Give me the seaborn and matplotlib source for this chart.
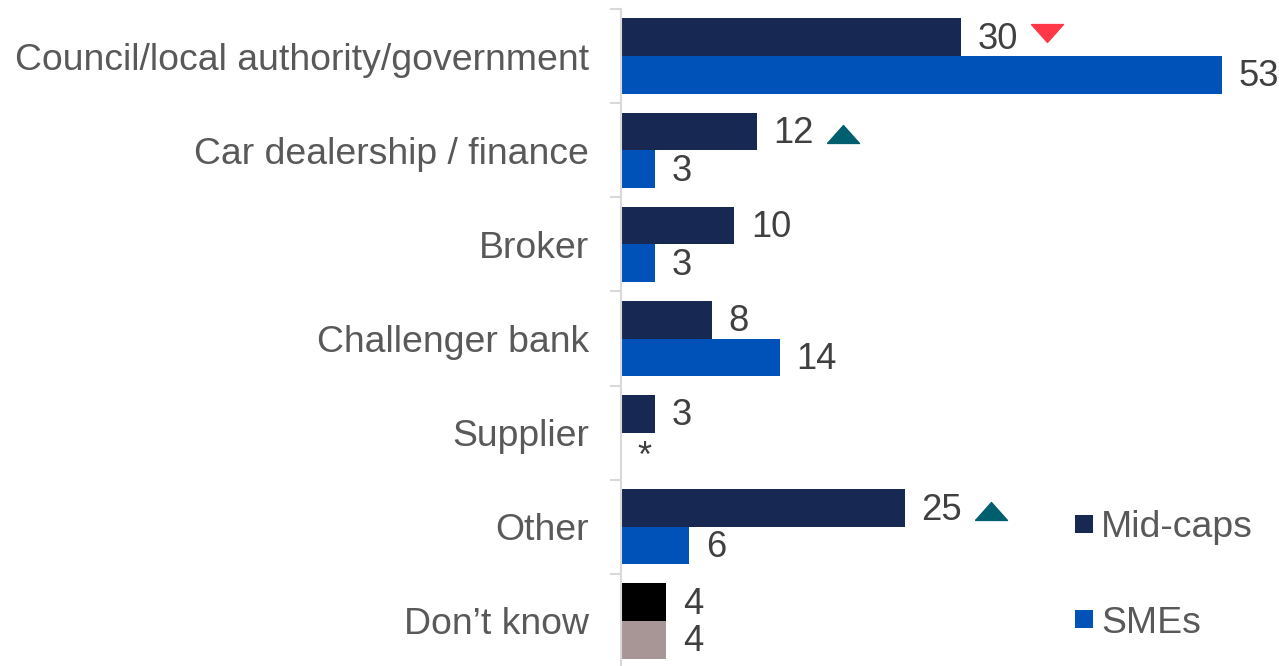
import numpy as np
import pandas as pd
import matplotlib
matplotlib.use("Agg")
import matplotlib.pyplot as plt
import matplotlib.transforms as mtransforms
from matplotlib.lines import Line2D
import seaborn as sns

# Sources of finance (%)
categories = [
    "Council/local authority/government",
    "Car dealership / finance",
    "Broker",
    "Challenger bank",
    "Supplier",
    "Other",
    "Don\u2019t know",
]
midcaps = [30, 12, 10, 8, 3, 25, 4]
smes = [53, 3, 3, 14, None, 6, 4]          # None = below 0.5%, shown as "*"
# significance markers on the Mid-caps bars: "up" / "down" / None
midcap_sig = ["down", "up", None, None, None, "up", None]

groups = ["Mid-caps", "SMEs"]
colors = {"Mid-caps": "#172852", "SMEs": "#0052B8"}
dk_colors = {"Mid-caps": "#000000", "SMEs": "#A89595"}
sig_colors = {"up": "#005F6E", "down": "#FF3747"}

sme_plot = [0 if v is None else v for v in smes]
sme_labels = ["*" if v is None else str(v) for v in smes]
mid_labels = [str(v) for v in midcaps]

df = pd.DataFrame({
    "Source": categories * 2,
    "Group": ["Mid-caps"] * len(categories) + ["SMEs"] * len(categories),
    "Value": midcaps + sme_plot,
})

sns.set_theme(style="white")
plt.rcParams["font.family"] = ["Liberation Sans", "DejaVu Sans"]

FS = 26.9
FS_VAL = 26.2
fig = plt.figure(figsize=(12.79, 6.66), dpi=100)
px_per_unit = 11.34
ax = fig.add_axes([621 / 1279, -2 / 666, 60 * px_per_unit / 1279, 659 / 666])

sns.barplot(data=df, y="Source", x="Value", hue="Group", order=categories,
            hue_order=groups, palette=colors, orient="h", width=0.8,
            linewidth=0, saturation=1, legend=False, ax=ax)

ax.set_xlim(0, 60)
ax.set_ylim(len(categories) - 0.5, -0.5)

# recolour the "Don't know" pair
dk = categories.index("Don\u2019t know")
for cont, g in zip(ax.containers, groups):
    cont.patches[dk].set_facecolor(dk_colors[g])

# value labels
for cont, labels in zip(ax.containers, [mid_labels, sme_labels]):
    texts = ax.bar_label(cont, labels=labels, padding=12, fontsize=FS_VAL,
                         color="#404040")
    for t in texts:
        x0, y0 = t.xyann
        t.xyann = (x0, y0 - (4 if t.get_text() == "*" else 1.5))

# significance triangles beside the Mid-caps labels
tri_up = [(-1, -0.56), (1, -0.56), (0, 0.56), (-1, -0.56)]
tri_down = [(-1, 0.56), (1, 0.56), (0, -0.56), (-1, 0.56)]
mid_cont = ax.containers[0]
for i, sig in enumerate(midcap_sig):
    if sig is None:
        continue
    bar = mid_cont.patches[i]
    yc = bar.get_y() + bar.get_height() / 2
    dy = -2 if sig == "up" else 3
    tr = mtransforms.offset_copy(ax.transData, fig=fig, x=62, y=dy, units="points")
    ax.plot([midcaps[i]], [yc], marker=tri_up if sig == "up" else tri_down,
            markersize=23, color=sig_colors[sig], linestyle="none",
            transform=tr, clip_on=False)

# axes styling
for s in ["top", "right", "bottom"]:
    ax.spines[s].set_visible(False)
ax.spines["left"].set_color("#D9D9D9")
ax.spines["left"].set_linewidth(1.5)
ax.set_xticks([])
ax.set_xlabel("")
ax.set_ylabel("")
ax.tick_params(axis="y", which="major", left=True, length=0, pad=23,
               labelsize=FS, labelcolor="#595959")
ax.set_yticks(np.arange(-0.5, len(categories) + 0.5, 1), minor=True)
ax.tick_params(axis="y", which="minor", left=True, length=8, width=1.5,
               color="#D9D9D9")

handles = [Line2D([0], [0], marker="s", linestyle="none", markersize=13.5,
                  markerfacecolor=colors[g], markeredgewidth=0) for g in groups]
fig.legend(handles, groups, loc="upper left",
           bbox_to_anchor=(1075 / 1279, 1 - 510 / 666), frameon=False,
           fontsize=FS, labelcolor="#595959", handlelength=0.5,
           handletextpad=0.2, labelspacing=1.62, borderpad=0, borderaxespad=0)

fig.savefig("out.png", dpi=100)
